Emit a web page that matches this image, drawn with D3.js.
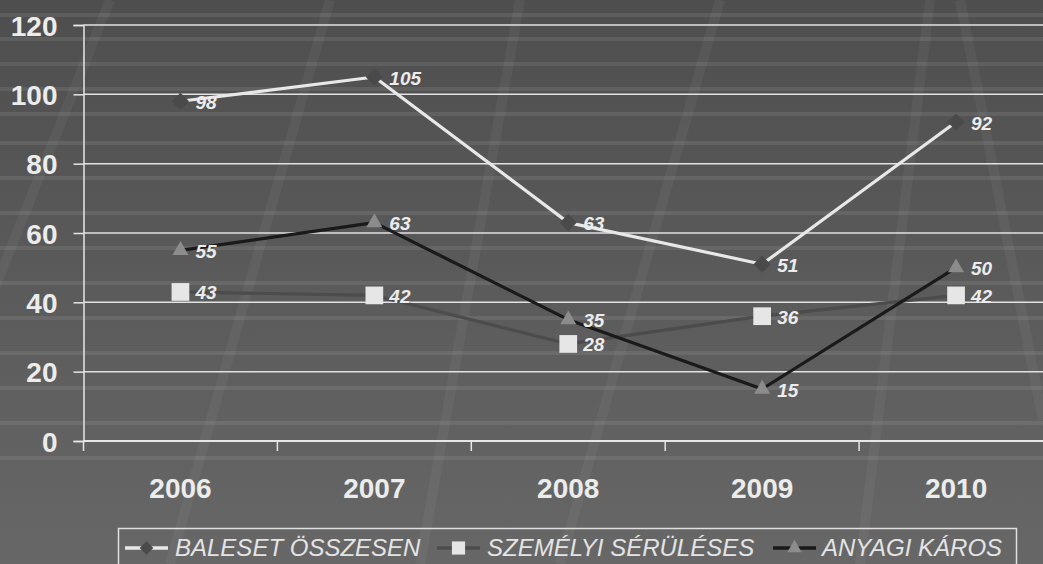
<!DOCTYPE html>
<html><head><meta charset="utf-8">
<script src="https://cdn.jsdelivr.net/npm/d3@7"></script>
<style>html,body{margin:0;padding:0;background:#5a5a5a;}svg{display:block;}</style>
</head><body>
<script>
const categories = ["2006","2007","2008","2009","2010"];
const baleset = [98,105,63,51,92];
const szemelyi = [43,42,28,36,42];
const anyagi = [55,63,35,15,50];
const yTicks = [0,20,40,60,80,100,120];
const seriesNames = ["BALESET ÖSSZESEN","SZEMÉLYI SÉRÜLÉSES","ANYAGI KÁROS"];

const W=1043,H=564;
const FONT="Liberation Sans, Arial, sans-serif";
const svg=d3.select("body").append("svg").attr("width",W).attr("height",H);
const defs=svg.append("defs");
const g1=defs.append("linearGradient").attr("id","bg").attr("x1",0).attr("y1",0).attr("x2",0).attr("y2",1);
g1.append("stop").attr("offset","0%").attr("stop-color","#4e4e4e");
g1.append("stop").attr("offset","100%").attr("stop-color","#676767");
svg.append("rect").attr("width",W).attr("height",H).attr("fill","url(#bg)");

// decorative perspective stripes
const deco=svg.append("g").attr("opacity",0.07);
[[110,0,-10,300],[330,0,170,564],[520,0,420,564],[720,0,560,564],[930,0,860,564],[960,0,1043,420]].forEach(d=>{
  deco.append("line").attr("x1",d[0]).attr("y1",d[1]).attr("x2",d[2]).attr("y2",d[3]).attr("stroke","#bbb").attr("stroke-width",10);
});
const bands=svg.append("g").attr("opacity",0.10);
[13,37,62,87,112,141,176,211,246,281,316,351,386,421,456].forEach(y=>{
  bands.append("rect").attr("x",0).attr("y",y).attr("width",W).attr("height",4).attr("fill","#ddd");
});

const x=d3.scaleBand().domain(categories).range([83.5,1053]);
const y=d3.scaleLinear().domain([0,120]).range([441,25]);

// gridlines
svg.append("g").selectAll("line").data(yTicks.slice(1)).join("line")
  .attr("x1",83.5).attr("x2",W).attr("y1",d=>y(d)).attr("y2",d=>y(d))
  .attr("stroke","#e2e2e2").attr("stroke-width",1.5);

// y axis
const ya=svg.append("g").attr("transform","translate(83.5,0)")
  .call(d3.axisLeft(y).tickValues(yTicks).tickSize(10).tickPadding(16));
ya.select(".domain").attr("stroke","#e6e6e6").attr("stroke-width",1.5);
ya.selectAll(".tick line").attr("stroke","#e6e6e6").attr("stroke-width",1.5);
ya.selectAll("text").attr("fill","#ececec").attr("font-family",FONT)
  .attr("font-weight","bold").attr("font-size",28).attr("dy","0.36em");

// x axis
const xa=svg.append("g").attr("transform","translate(0,441)")
  .call(d3.axisBottom(x).tickSize(0).tickPadding(0));
xa.select(".domain").remove();
xa.selectAll("text").attr("fill","#ececec").attr("font-family",FONT)
  .attr("font-weight","bold").attr("font-size",28).attr("dy",null).attr("y",57);
svg.append("line").attr("x1",83.5).attr("x2",W).attr("y1",441).attr("y2",441).attr("stroke","#e6e6e6").attr("stroke-width",2);
svg.append("g").selectAll("line").data(categories).join("line")
  .attr("x1",d=>x(d)).attr("x2",d=>x(d)).attr("y1",441).attr("y2",451)
  .attr("stroke","#e6e6e6").attr("stroke-width",1.5);

const cx=d=>x(d)+x.bandwidth()/2;
const series=[
  {name:seriesNames[0],vals:baleset,line:"#e8e8e8",mk:"#4a4a4a",sym:d3.symbolDiamond2,size:190,lsize:120},
  {name:seriesNames[1],vals:szemelyi,line:"#4c4c4c",mk:"#e6e6e6",sym:d3.symbolSquare2,size:400,lsize:220},
  {name:seriesNames[2],vals:anyagi,line:"#1a1a1a",mk:"#8c8c8c",sym:d3.symbolTriangle2,size:185,lsize:150}
];
const lineGen=d3.line().x((d,i)=>cx(categories[i])).y(d=>y(d));
series.forEach(s=>{
  svg.append("path").attr("d",lineGen(s.vals)).attr("fill","none").attr("stroke",s.line).attr("stroke-width",3.2).attr("stroke-linejoin","round");
});
series.forEach(s=>{
  svg.append("g").selectAll("path").data(s.vals).join("path")
    .attr("d",d3.symbol().type(s.sym).size(s.size))
    .attr("transform",(d,i)=>`translate(${cx(categories[i])},${y(d)})`)
    .attr("fill",s.mk);
});
series.forEach(s=>{
  svg.append("g").selectAll("text").data(s.vals).join("text")
    .attr("x",(d,i)=>cx(categories[i])+15).attr("y",d=>y(d)+7.5)
    .attr("fill","#ececec").attr("font-family",FONT)
    .attr("font-weight","bold").attr("font-style","italic").attr("font-size",19)
    .text(d=>d);
});

// legend
const lg=svg.append("g");
lg.append("rect").attr("x",118.5).attr("y",528.5).attr("width",898).attr("height",40)
  .attr("fill","none").attr("stroke","#e0e0e0").attr("stroke-width",1.5);
const legX=[125,437,773];
const txtX=[175,487,822];
series.forEach((s,i)=>{
  const gx=legX[i];
  lg.append("line").attr("x1",gx).attr("x2",gx+43).attr("y1",548).attr("y2",548).attr("stroke",s.line).attr("stroke-width",3.5);
  lg.append("path").attr("d",d3.symbol().type(s.sym).size(s.lsize)).attr("transform",`translate(${gx+21.5},548)`).attr("fill",s.mk);
  lg.append("text").attr("x",txtX[i]).attr("y",556).attr("fill","#e4e4e4")
    .attr("font-family",FONT).attr("font-style","italic").attr("font-size",24)
    .text(s.name);
});
</script>
</body></html>
